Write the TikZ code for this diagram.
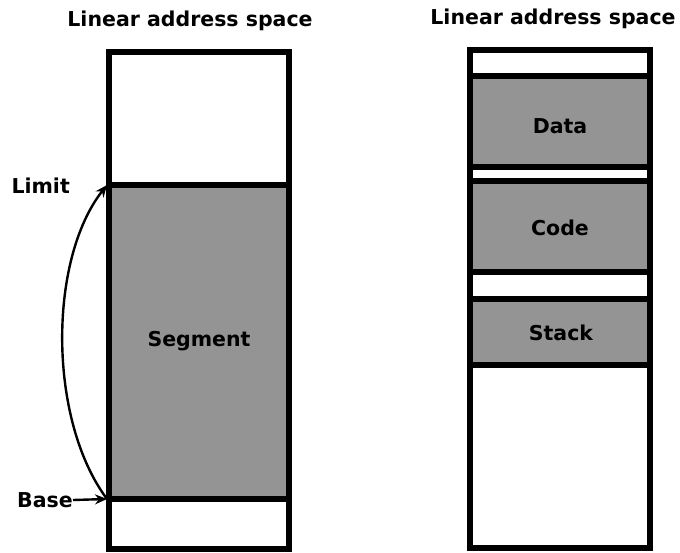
\documentclass[tikz,border=0pt]{standalone}
\usepackage{fontspec}
\setmainfont{DejaVu Sans}
\usetikzlibrary{arrows.meta}
\begin{document}
\begin{tikzpicture}[x=1pt,y=-1pt,
  lbl/.style={font=\fontsize{20.5}{24}\selectfont\bfseries, inner sep=0pt},
  frame/.style={draw=black, line width=5.5pt},
  seg/.style={fill=black!42, draw=black, line width=5.5pt},
  conn/.style={draw=black, line width=2.4pt, -{Stealth[length=12pt,width=10pt]}}]
\useasboundingbox (0,0) rectangle (680,552);

% left column: one segment in the linear address space
\node[lbl] (titleL) at (190,21) {Linear address space};
\draw[seg] (109,185) rectangle (289,499);
\draw[frame] (109,52) rectangle (289,549);
\node[lbl] (segment) at (199,341) {Segment};
\coordinate (limitP) at (107,185);
\coordinate (baseP) at (107,499);
\node[lbl, anchor=east] (limit) at (70,186) {Limit};
\node[lbl, anchor=east] (base) at (73,500) {Base};
\draw[conn] (base.east) -- (baseP);
\draw[conn] (baseP) .. controls (48,420) and (48,260) .. (limitP);

% right column: data, code and stack segments
\node[lbl] (titleR) at (553,19) {Linear address space};
\draw[seg] (470,76) rectangle (650,167);
\draw[seg] (470,181) rectangle (650,272);
\draw[seg] (470,299) rectangle (650,365);
\draw[frame] (470,50) rectangle (650,548);
\node[lbl] (data) at (560,126) {Data};
\node[lbl] (code) at (560,228) {Code};
\node[lbl] (stack) at (561,333) {Stack};
\end{tikzpicture}
\end{document}
